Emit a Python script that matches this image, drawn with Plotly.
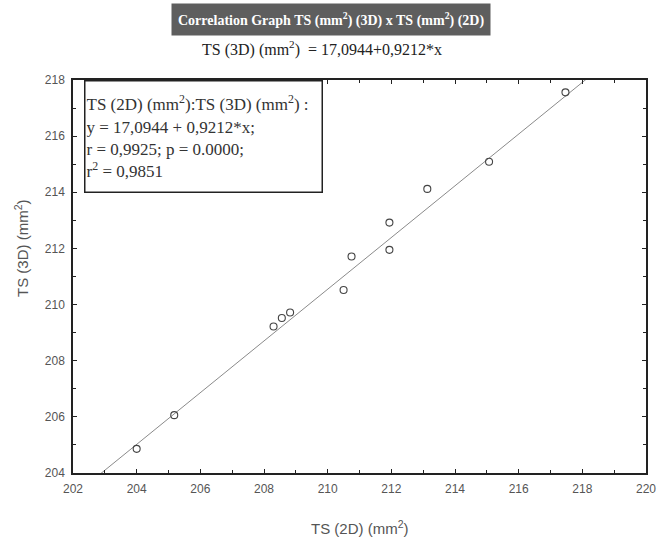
import plotly.graph_objects as go

# Data
ts_2d = [204.0, 205.18, 208.30, 208.56, 208.82, 210.50, 210.75, 211.94, 211.94, 213.13, 215.07, 217.47]
ts_3d = [204.86, 206.06, 209.22, 209.52, 209.72, 210.52, 211.71, 212.92, 211.95, 214.12, 215.09, 217.56]
intercept = 17.0944
slope = 0.9212
fit_x = [202.0, 220.0]
fit_y = [intercept + slope * v for v in fit_x]

x_ticks = [202, 204, 206, 208, 210, 212, 214, 216, 218, 220]
y_ticks = [204, 206, 208, 210, 212, 214, 216, 218]

W, H = 658, 537
L, R, T, B = 73, 12, 80, 64
pw, ph = W - L - R, H - T - B

def px(xpix):
    return (xpix - L) / pw

def py(ypix):
    return (H - B - ypix) / ph

fig = go.Figure()
fig.add_trace(go.Scatter(x=fit_x, y=fit_y, mode="lines",
                         line=dict(color="#8a8a8a", width=1), showlegend=False, hoverinfo="skip"))
fig.add_trace(go.Scatter(x=ts_2d, y=ts_3d, mode="markers",
                         marker=dict(symbol="circle-open", size=7, color="#444444", line=dict(width=1.1)),
                         showlegend=False))

axis_common = dict(showgrid=False, zeroline=False, showline=True, linecolor="#222222", linewidth=1.5,
                   mirror="ticks", ticks="inside", ticklen=4, tickcolor="#222222", automargin=False,
                   tickfont=dict(family="Liberation Sans, Arial, sans-serif", size=12, color="#555555"))

fig.update_xaxes(range=[202, 220], tickvals=x_ticks, ticktext=[str(v) for v in x_ticks],
                 minor=dict(dtick=1, ticks="inside", ticklen=3, tickcolor="#222222"),
                 ticklabelstandoff=4,
                 **axis_common)
fig.update_yaxes(range=[204, 218], tickvals=y_ticks, ticktext=[str(v) for v in y_ticks],
                 minor=dict(dtick=1, ticks="inside", ticklen=3, tickcolor="#222222"),
                 ticklabelstandoff=4,
                 **axis_common)

# Title bar
fig.add_annotation(xref="paper", yref="paper", x=px(331), y=py(19), xanchor="center", yanchor="middle",
                   text="<b>Correlation Graph TS (mm<sup>2</sup>) (3D) x TS (mm<sup>2</sup>) (2D)</b>",
                   showarrow=False, bgcolor="#5e5e5e", borderpad=6,
                   font=dict(family="Liberation Serif, Times New Roman, serif", size=14, color="white"))
# Equation subtitle
fig.add_annotation(xref="paper", yref="paper", x=px(322), y=py(49), xanchor="center", yanchor="middle",
                   text="TS (3D) (mm<sup>2</sup>)  = 17,0944+0,9212*x", showarrow=False,
                   font=dict(family="Liberation Serif, Times New Roman, serif", size=16, color="#222222"))
# Stats box
fig.add_annotation(xref="paper", yref="paper", x=px(84), y=py(80), xanchor="left", yanchor="top",
                   text=("TS (2D) (mm<sup>2</sup>):TS (3D) (mm<sup>2</sup>) :<br>"
                         "y = 17,0944 + 0,9212*x;<br>"
                         "r = 0,9925; p = 0.0000;<br>"
                         "r<sup>2</sup> = 0,9851"),
                   align="left", showarrow=False, bgcolor="white", bordercolor="#222222",
                   borderwidth=1.5, borderpad=1, width=234, height=108, valign="middle",
                   font=dict(family="Liberation Serif, Times New Roman, serif", size=17, color="#333333"))
# Y axis label
fig.add_annotation(xref="paper", yref="paper", x=px(21), y=py(248), xanchor="center", yanchor="middle",
                   text="TS (3D) (mm<sup>2</sup>)", textangle=-90, showarrow=False,
                   font=dict(family="Liberation Sans, Arial, sans-serif", size=15, color="#555555"))
# X axis label
fig.add_annotation(xref="paper", yref="paper", x=px(360), y=py(527), xanchor="center", yanchor="middle",
                   text="TS (2D) (mm<sup>2</sup>)", showarrow=False,
                   font=dict(family="Liberation Sans, Arial, sans-serif", size=15, color="#555555"))

fig.update_layout(width=W, height=H, margin=dict(l=L, r=R, t=T, b=B),
                  plot_bgcolor="white", paper_bgcolor="white")

fig.write_html("out.html", config={"displayModeBar": False},
               post_script="document.body.style.margin='0';document.body.style.overflow='hidden';")
